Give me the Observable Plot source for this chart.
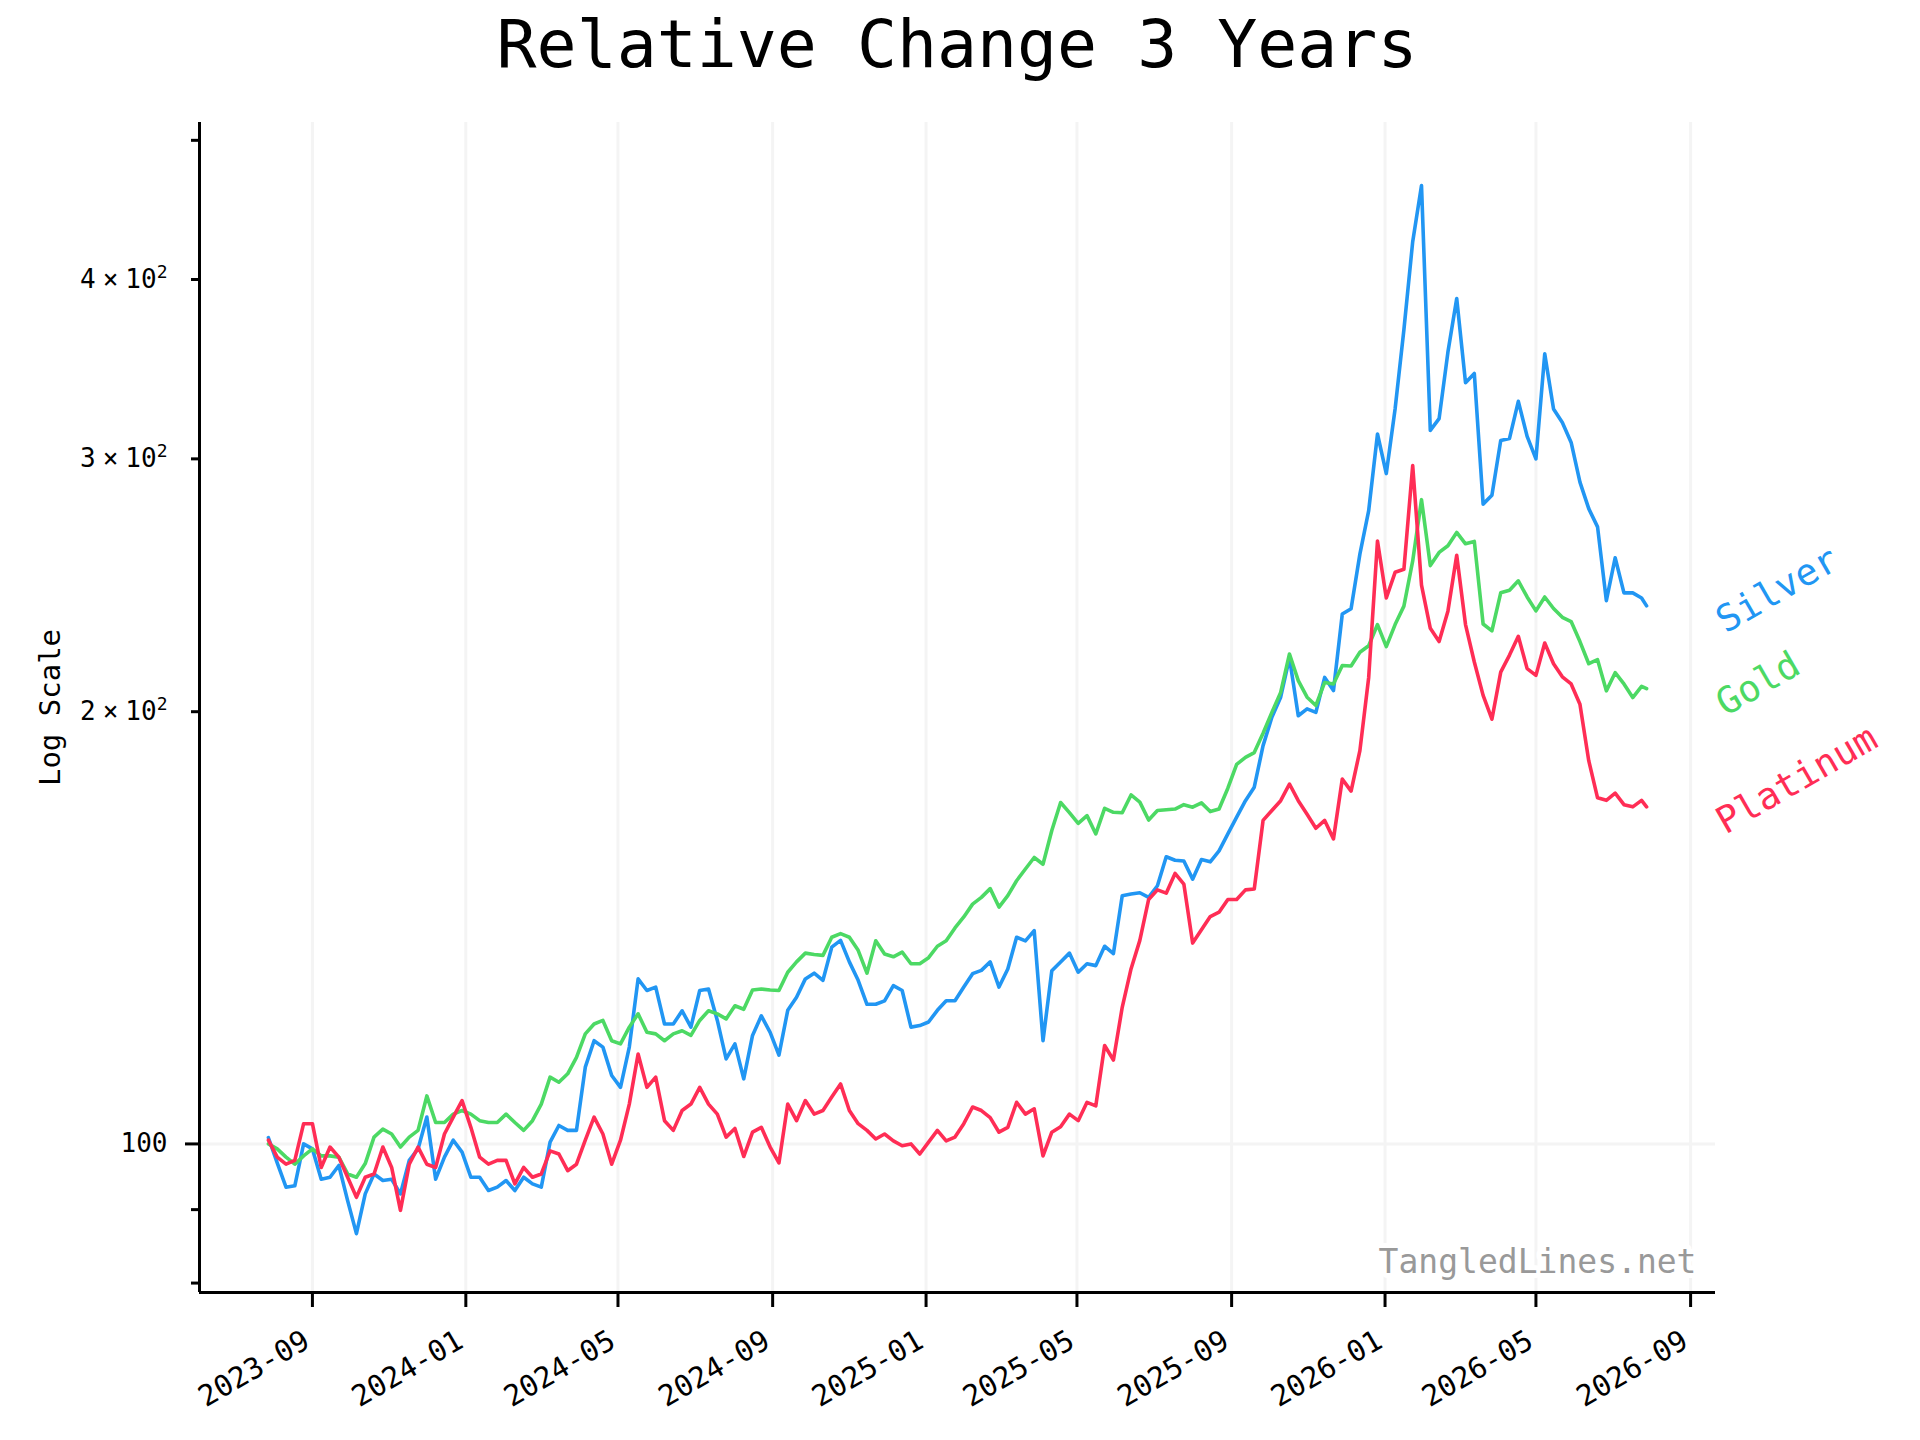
<!DOCTYPE html>
<html>
<head>
<meta charset="utf-8">
<script src="https://cdn.jsdelivr.net/npm/d3@7"></script>
<script src="https://cdn.jsdelivr.net/npm/@observablehq/plot@0.6"></script>
<style>
html, body { margin: 0; padding: 0; background: #fff; }
#wrap { width: 1920px; }
#title {
  height: 100px; line-height: 88px; box-sizing: border-box;
  padding-left: 199px; padding-right: 205px;
  font-family: "DejaVu Sans Mono", monospace; font-size: 66.5px;
  text-align: center; white-space: nowrap; color: #000;
}
</style>
</head>
<body>
<div id="wrap">
  <div id="title">Relative Change 3 Years</div>
  <div id="chart"></div>
</div>
<script>
// ---- data (weekly samples, index 100 = start) ----
const dates = [
  "2023-07-28","2023-08-04","2023-08-11","2023-08-18","2023-08-25","2023-09-01","2023-09-08","2023-09-15","2023-09-22","2023-09-29",
  "2023-10-06","2023-10-13","2023-10-20","2023-10-27","2023-11-03","2023-11-10","2023-11-17","2023-11-24","2023-12-01","2023-12-08",
  "2023-12-15","2023-12-22","2023-12-29","2024-01-05","2024-01-12","2024-01-19","2024-01-26","2024-02-02","2024-02-09","2024-02-16",
  "2024-02-23","2024-03-01","2024-03-08","2024-03-15","2024-03-22","2024-03-29","2024-04-05","2024-04-12","2024-04-19","2024-04-26",
  "2024-05-03","2024-05-10","2024-05-17","2024-05-24","2024-05-31","2024-06-07","2024-06-14","2024-06-21","2024-06-28","2024-07-05",
  "2024-07-12","2024-07-19","2024-07-26","2024-08-02","2024-08-09","2024-08-16","2024-08-23","2024-08-30","2024-09-06","2024-09-13",
  "2024-09-20","2024-09-27","2024-10-04","2024-10-11","2024-10-18","2024-10-25","2024-11-01","2024-11-08","2024-11-15","2024-11-22",
  "2024-11-29","2024-12-06","2024-12-13","2024-12-20","2024-12-27","2025-01-03","2025-01-10","2025-01-17","2025-01-24","2025-01-31",
  "2025-02-07","2025-02-14","2025-02-21","2025-02-28","2025-03-07","2025-03-14","2025-03-21","2025-03-28","2025-04-04","2025-04-11",
  "2025-04-18","2025-04-25","2025-05-02","2025-05-09","2025-05-16","2025-05-23","2025-05-30","2025-06-06","2025-06-13","2025-06-20",
  "2025-06-27","2025-07-04","2025-07-11","2025-07-18","2025-07-25","2025-08-01","2025-08-08","2025-08-15","2025-08-22","2025-08-29",
  "2025-09-05","2025-09-12","2025-09-19","2025-09-26","2025-10-03","2025-10-10","2025-10-17","2025-10-24","2025-10-31","2025-11-07",
  "2025-11-14","2025-11-21","2025-11-28","2025-12-05","2025-12-12","2025-12-19","2025-12-26","2026-01-02","2026-01-09","2026-01-16",
  "2026-01-23","2026-01-30","2026-02-06","2026-02-13","2026-02-20","2026-02-27","2026-03-06","2026-03-13","2026-03-20","2026-03-27",
  "2026-04-03","2026-04-10","2026-04-17","2026-04-24","2026-05-01","2026-05-08","2026-05-15","2026-05-22","2026-05-29","2026-06-05",
  "2026-06-12","2026-06-19","2026-06-26","2026-07-03","2026-07-10","2026-07-17","2026-07-24","2026-07-28"
];

const silver = [
  101, 97, 93.3, 93.5, 100, 99.2, 94.5, 94.8, 96.6, 91.3,
  86.6, 92.3, 95.3, 94.3, 94.5, 92.3, 97.4, 99.2, 104.4, 94.5,
  97.9, 100.6, 98.7, 94.8, 94.8, 92.8, 93.3, 94.3, 92.8, 94.8,
  93.8, 93.3, 100.3, 103, 102.2, 102.2, 113.1, 118, 116.8, 111.6,
  109.5, 116.8, 130.3, 127.9, 128.6, 121.2, 121.2, 123.8, 120.6, 127.9,
  128.2, 121.9, 114.6, 117.4, 111, 119, 122.8, 119.6, 115.3, 123.9,
  126.5, 130.3, 131.5, 130, 137.1, 138.6, 133.9, 130, 125.1, 125.1,
  125.8, 128.9, 127.9, 120.6, 120.9, 121.6, 123.9, 125.8, 125.8, 128.6,
  131.4, 132.1, 133.9, 128.6, 132.4, 139.3, 138.5, 140.8, 118, 132,
  133.9, 135.8, 131.7, 133.5, 133.1, 137.3, 135.7, 148.9, 149.3, 149.6,
  148.5, 151.3, 158.5, 157.6, 157.4, 152.9, 157.8, 157.2, 160, 164.4,
  168.9, 173.4, 177.2, 189.4, 198.2, 204.7, 218, 198.7, 200.9, 199.8,
  211.3, 206.9, 233.9, 235.9, 257.5, 276.1, 312.2, 293, 325, 369,
  425, 465, 314, 320, 356, 388, 339, 344, 279, 283,
  309, 310, 329, 311, 300, 355, 325, 318, 308, 289,
  277, 269, 239, 256, 242, 242, 240, 237
];

const gold = [
  100, 99.2, 97.9, 96.8, 98.1, 99.2, 98.1, 98.1, 97.9, 95.3,
  94.8, 96.9, 101.1, 102.4, 101.6, 99.5, 101.1, 102.2, 108, 103.5,
  103.5, 104.9, 105.5, 104.9, 103.8, 103.5, 103.5, 104.9, 103.5, 102.2,
  103.8, 106.6, 111.3, 110.4, 111.9, 114.9, 119.3, 121.2, 121.9, 118,
  117.4, 120.6, 123.2, 119.6, 119.3, 118, 119.3, 119.9, 119, 121.9,
  123.8, 123.2, 122.2, 124.8, 124.1, 128, 128.2, 128, 127.9, 131.7,
  133.9, 135.8, 135.5, 135.3, 139.3, 140.1, 139.3, 136.4, 131.5, 138.5,
  135.6, 135, 136, 133.5, 133.5, 134.8, 137.3, 138.5, 141.4, 143.9,
  146.9, 148.5, 150.6, 146.2, 148.9, 152.5, 155.4, 158.3, 156.6, 165.3,
  172.9, 170.1, 167.2, 169.3, 164.4, 171.3, 170.2, 170.1, 175, 173,
  168.1, 170.7, 170.9, 171.1, 172.3, 171.6, 172.8, 170.4, 171.1, 176.9,
  183.8, 185.9, 187.3, 193.2, 199.8, 206.3, 219.4, 210.2, 204.7, 202,
  209.6, 209.1, 215.4, 215.2, 220, 222.3, 230, 222, 230, 236.9,
  254.7, 281, 252.8, 258.2, 261, 266.6, 261.8, 262.8, 230.2, 227.7,
  242, 243, 246.7, 240.4, 235.1, 240.4, 236, 232.7, 231.1, 223.8,
  216, 217.4, 206.8, 212.9, 209.1, 204.6, 208.3, 207.5
];

const platinum = [
  100.6, 97.9, 96.8, 97.4, 103.3, 103.3, 96.3, 99.5, 97.9, 94.8,
  91.8, 94.8, 95.3, 99.5, 96.3, 89.9, 96.8, 99.5, 96.8, 96.3,
  101.6, 104.4, 107.2, 102.7, 97.9, 96.8, 97.4, 97.4, 93.8, 96.3,
  94.8, 95.3, 98.9, 98.4, 95.8, 96.8, 100.6, 104.4, 101.6, 96.8,
  100.6, 106.6, 115.5, 109.5, 111.3, 103.8, 102.2, 105.5, 106.6, 109.5,
  106.6, 104.9, 101.1, 102.5, 98, 101.9, 102.7, 99.5, 97, 106.6,
  103.8, 107.2, 104.9, 105.5, 107.8, 110.1, 105.5, 103.3, 102.2, 100.8,
  101.6, 100.5, 99.7, 100, 98.4, 100.3, 102.2, 100.5, 101.1, 103.3,
  106.1, 105.5, 104.3, 101.9, 102.7, 106.9, 104.9, 105.8, 98.1, 101.9,
  102.8, 104.9, 103.8, 106.9, 106.3, 117.1, 114.4, 124.5, 132.4, 138.6,
  148, 150.3, 149.5, 154.3, 151.7, 138, 141, 144, 145, 148,
  148, 150.3, 150.5, 168, 170.7, 173.4, 178.1, 173.4, 169.7, 165.9,
  168, 163.1, 179.5, 176.1, 187.9, 211.3, 263, 240, 250.1, 251.3,
  296.8, 245, 228.6, 223.8, 235, 257, 230, 216.6, 205.3, 197.6,
  213.1, 219, 225.7, 214.3, 212, 223.3, 216, 211.5, 209.1, 202.4,
  184.9, 174.2, 173.5, 175.5, 172.3, 171.7, 173.5, 171.7
];

const seriesNames = ["Silver", "Gold", "Platinum"];
const seriesColors = ["#2196F3", "#4CD964", "#FF2D55"];

const xTickLabels = ["2023-09", "2024-01", "2024-05", "2024-09", "2025-01", "2025-05", "2025-09", "2026-01", "2026-05", "2026-09"];
const yMajorTicks = [100];
const yMinorTicks = [80, 90, 200, 300, 400, 500];
const yMinorLabels = { 200: "2×10²", 300: "3×10²", 400: "4×10²" };
const yAxisTitle = "Log Scale";
const watermark = "TangledLines.net";

// ---- build ----
const parse = d3.utcParse("%Y-%m-%d");
const allValues = [silver, gold, platinum];
const seriesData = allValues.map((vals, s) =>
  dates.map((d, i) => ({ date: parse(d), value: vals[i], name: seriesNames[s] }))
);
const xTicks = xTickLabels.map(s => parse(s + "-01"));
const fmt = d3.utcFormat("%Y-%m");

const xDomain = [new Date("2023-06-03T04:48:00Z"), new Date("2026-09-20T19:12:00Z")];
const yDomain = [78.8, 514.5];

const FONT = "'DejaVu Sans Mono', monospace";
const GRID = "#f4f4f4";

const marks = [
  Plot.gridX({ ticks: xTicks, stroke: GRID, strokeOpacity: 1, strokeWidth: 3 }),
  Plot.gridY({ ticks: yMajorTicks, stroke: GRID, strokeOpacity: 1, strokeWidth: 3 })
];

seriesData.forEach((data, s) => {
  marks.push(Plot.line(data, { x: "date", y: "value", stroke: seriesColors[s], strokeWidth: 3.6 }));
});

marks.push(
  Plot.axisX({ ticks: xTicks, tickSize: 15, tickFormat: () => "", strokeWidth: 3, label: null }),
  Plot.text(xTicks, {
    x: d => d, frameAnchor: "bottom", text: d => fmt(d), rotate: -30,
    textAnchor: "end", lineAnchor: "top", dx: -11, dy: 36, fontSize: 29, fill: "#000"
  }),
  Plot.axisY({ ticks: yMajorTicks, tickSize: 14, tickPadding: 18, tickFormat: d => String(d), strokeWidth: 3, fontSize: 26, label: null }),
  Plot.axisY({ ticks: yMinorTicks, tickSize: 8, tickPadding: 24, tickFormat: d => yMinorLabels[d] || "", strokeWidth: 3, fontSize: 26, label: null }),
  Plot.ruleX([xDomain[0]], { stroke: "#000", strokeWidth: 3 }),
  Plot.ruleY([yDomain[0]], { stroke: "#000", strokeWidth: 3 }),
  Plot.text([yAxisTitle], {
    frameAnchor: "left", text: d => d, rotate: -90, dx: -149,
    textAnchor: "middle", lineAnchor: "middle", fontSize: 29, fill: "#000"
  }),
  Plot.text([watermark], {
    frameAnchor: "bottom-right", text: d => d, textAnchor: "end", lineAnchor: "bottom",
    dx: -19, dy: -20, fontSize: 33, fill: "#999", stroke: "#fff", strokeWidth: 10, paintOrder: "stroke"
  })
);

const last = dates.length - 1;
seriesNames.forEach((name, s) => {
  marks.push(Plot.text([{ date: parse(dates[last]), value: allValues[s][last], name }], {
    x: "date", y: "value", text: "name", rotate: -30,
    textAnchor: "start", lineAnchor: "bottom", dx: 79, dy: 28,
    fontSize: 37, fill: seriesColors[s]
  }));
});

const chart = Plot.plot({
  width: 1920,
  height: 1340,
  marginTop: 22,
  marginLeft: 199,
  marginRight: 205,
  marginBottom: 148,
  style: { fontFamily: FONT, fontSize: "26px", background: "#fff", color: "#000" },
  x: { type: "utc", domain: xDomain },
  y: { type: "log", domain: yDomain },
  marks
});

// typeset "n×10²" tick labels like the reference (spaced ×, raised exponent)
const NS = "http://www.w3.org/2000/svg";
chart.querySelectorAll("text").forEach(t => {
  const m = /^(\d)×10²$/.exec(t.textContent);
  if (!m) return;
  t.textContent = "";
  [[m[1], {}], ["×", { dx: 7 }], ["10", { dx: 7 }], ["2", { dy: -10, "font-size": 18 }]].forEach(([s, attrs]) => {
    const ts = document.createElementNS(NS, "tspan");
    for (const k in attrs) ts.setAttribute(k, attrs[k]);
    ts.textContent = s;
    t.appendChild(ts);
  });
});

document.getElementById("chart").appendChild(chart);
</script>
</body>
</html>
